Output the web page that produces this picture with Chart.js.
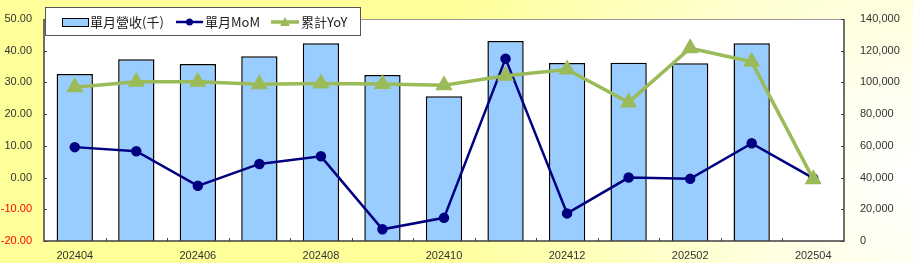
<!DOCTYPE html>
<html>
<head>
<meta charset="utf-8">
<script src="https://cdn.jsdelivr.net/npm/chart.js@4"></script>
<style>
  html, body { margin: 0; padding: 0; background: #ffffcc; }
  #wrap { width: 913px; height: 263px; }
</style>
</head>
<body>
<div id="wrap"><canvas id="graf" width="913" height="263"></canvas></div>
<script>
"use strict";

const maaneder = ["202404", "202405", "202406", "202407", "202408", "202409", "202410",
                  "202411", "202412", "202501", "202502", "202503", "202504"];
const omsaetning = [105300, 114600, 111600, 116500, 124700, 104700, 91250,
                    126100, 112250, 112450, 112050, 124700, null];
const mom = [9.6, 8.3, -2.6, 4.3, 6.7, -16.3, -12.7, 37.5, -11.3, 0.0, -0.4, 10.8, -0.2];
const yoy = [28.5, 30.2, 30.2, 29.4, 29.7, 29.5, 29.1, 32.1, 34.1, 23.7, 40.8, 36.5, -0.5];

const legendNavne = ["單月營收(千)", "單月MoM", "累計YoY"];

const TEKST = "#333333";
const fontTal = { family: "Liberation Sans, Arial, sans-serif", size: 11 };

const baggrund = {
  id: "baggrund",
  beforeDraw(chart) {
    const ctx = chart.ctx;
    const a = chart.chartArea;
    const g = ctx.createRadialGradient(913, 175, 5, 913, 175, 650);
    g.addColorStop(0, "#ffffff");
    g.addColorStop(0.2, "#ffffe6");
    g.addColorStop(0.75, "#ffff99");
    g.addColorStop(1, "#ffff99");
    ctx.save();
    ctx.fillStyle = g;
    ctx.fillRect(0, 0, chart.width, chart.height);
    ctx.fillStyle = "#ffffff";
    ctx.fillRect(a.left, a.top, a.right - a.left, a.bottom - a.top);
    ctx.restore();
  },
  afterDatasetsDraw(chart) {
    const ctx = chart.ctx;
    const a = chart.chartArea;
    const x = chart.scales.x;
    const yL = chart.scales.y;
    const yR = chart.scales.y1;
    ctx.save();
    // ramme
    ctx.strokeStyle = "#999999";
    ctx.lineWidth = 1;
    ctx.beginPath();
    ctx.moveTo(a.left, a.top + 0.5);
    ctx.lineTo(a.right, a.top + 0.5);
    ctx.stroke();
    ctx.strokeStyle = "#404040";
    ctx.lineWidth = 1.5;
    ctx.beginPath();
    ctx.moveTo(a.left, a.top);
    ctx.lineTo(a.left, a.bottom);
    ctx.lineTo(a.right, a.bottom);
    ctx.lineTo(a.right, a.top);
    ctx.stroke();
    // små tick-streger indad
    ctx.lineWidth = 1;
    ctx.beginPath();
    const bredde = (a.right - a.left) / maaneder.length;
    for (let i = 1; i < maaneder.length; i++) {
      const px = Math.round(x.getPixelForValue(i) - bredde / 2) + 0.5;
      ctx.moveTo(px, a.bottom);
      ctx.lineTo(px, a.bottom - 3);
    }
    yL.ticks.forEach(t => {
      const py = Math.round(yL.getPixelForValue(t.value)) + 0.5;
      ctx.moveTo(a.left, py);
      ctx.lineTo(a.left + 3, py);
    });
    yR.ticks.forEach(t => {
      const py = Math.round(yR.getPixelForValue(t.value)) + 0.5;
      ctx.moveTo(a.right, py);
      ctx.lineTo(a.right - 3, py);
    });
    ctx.stroke();
    ctx.restore();
  },
  afterDraw(chart) {
    const ctx = chart.ctx;
    ctx.save();
    // legende-boks
    ctx.fillStyle = "#ffffff";
    ctx.fillRect(45, 7, 315, 28);
    ctx.strokeStyle = "#555555";
    ctx.lineWidth = 1;
    ctx.strokeRect(45.5, 7.5, 315, 28);
    ctx.font = "13px 'Noto Sans CJK TC', 'Liberation Serif', serif";
    ctx.textBaseline = "middle";
    const cy = 22;
    // søjle
    ctx.fillStyle = "#99ccff";
    ctx.fillRect(62, cy - 4, 26, 8);
    ctx.strokeStyle = "#000000";
    ctx.strokeRect(62.5, cy - 3.5, 26, 8);
    ctx.fillStyle = "#222222";
    ctx.fillText(legendNavne[0], 90, cy);
    // MoM
    ctx.strokeStyle = "#000080";
    ctx.lineWidth = 2.5;
    ctx.beginPath();
    ctx.moveTo(176, cy);
    ctx.lineTo(203, cy);
    ctx.stroke();
    ctx.fillStyle = "#000080";
    ctx.beginPath();
    ctx.arc(189.5, cy, 3.5, 0, Math.PI * 2);
    ctx.fill();
    ctx.fillStyle = "#222222";
    ctx.fillText(legendNavne[1], 205, cy);
    // YoY
    ctx.strokeStyle = "#9bbb59";
    ctx.lineWidth = 3.5;
    ctx.beginPath();
    ctx.moveTo(271, cy);
    ctx.lineTo(299, cy);
    ctx.stroke();
    ctx.fillStyle = "#9bbb59";
    ctx.beginPath();
    ctx.moveTo(285, cy - 5);
    ctx.lineTo(290, cy + 4);
    ctx.lineTo(280, cy + 4);
    ctx.closePath();
    ctx.fill();
    ctx.fillStyle = "#222222";
    ctx.fillText(legendNavne[2], 301, cy);
    ctx.restore();
  }
};

new Chart(document.getElementById("graf").getContext("2d"), {
  data: {
    labels: maaneder,
    datasets: [
      {
        type: "line", label: legendNavne[2], data: yoy, yAxisID: "y",
        borderColor: "#9bbb59", backgroundColor: "#9bbb59", borderWidth: 3.5,
        pointStyle: "triangle", pointRadius: 6.5, tension: 0, order: 1
      },
      {
        type: "line", label: legendNavne[1], data: mom, yAxisID: "y",
        borderColor: "#000080", backgroundColor: "#000080", borderWidth: 2.5,
        pointRadius: 4, tension: 0, order: 2
      },
      {
        type: "bar", label: legendNavne[0], data: omsaetning, yAxisID: "y1",
        backgroundColor: "#99ccff", borderColor: "#000000", borderWidth: 1.5,
        barPercentage: 0.59, categoryPercentage: 1, order: 3
      }
    ]
  },
  options: {
    responsive: false,
    animation: false,
    layout: { padding: { top: 19, left: 0, right: 0, bottom: 0 } },
    plugins: { legend: { display: false }, tooltip: { enabled: false } },
    scales: {
      x: {
        offset: true,
        grid: { display: false },
        border: { display: false },
        ticks: {
          autoSkip: false, maxRotation: 0, color: TEKST, font: fontTal, padding: 0,
          callback: (v, i) => (i % 2 === 0 ? maaneder[i] : "")
        },
        afterFit: s => { s.height = 22; }
      },
      y: {
        position: "left", min: -20, max: 50,
        grid: { display: false },
        border: { display: false },
        ticks: {
          stepSize: 10, font: fontTal, padding: 4,
          color: c => (c.tick.value < 0 ? "#ff0000" : TEKST),
          callback: v => v.toFixed(2)
        },
        afterFit: s => { s.width = 44; }
      },
      y1: {
        position: "right", min: 0, max: 140000,
        grid: { display: false },
        border: { display: false },
        ticks: {
          stepSize: 20000, color: TEKST, font: fontTal, padding: 8,
          callback: v => v.toLocaleString("en-US")
        },
        afterFit: s => { s.width = 69; }
      }
    }
  },
  plugins: [baggrund]
});
</script>
</body>
</html>
